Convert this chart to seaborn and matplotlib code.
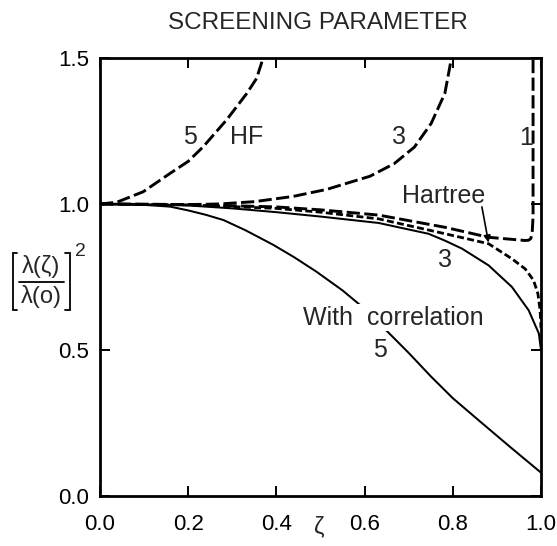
import matplotlib
matplotlib.use("Agg")
import matplotlib.pyplot as plt
from matplotlib.lines import Line2D
import pandas as pd
import seaborn as sns

# Hartree-Fock curves (long dashes), labelled by coordination 5, 3, 1
zeta_hf5 = [0.0, 0.038, 0.098, 0.159, 0.20, 0.234, 0.287, 0.333, 0.355, 0.37]
lam_hf5 = [1.0, 1.006, 1.042, 1.105, 1.146, 1.196, 1.288, 1.379, 1.43, 1.5]

zeta_hf3 = [0.0, 0.10, 0.20, 0.27, 0.35, 0.438, 0.514, 0.612, 0.667, 0.713,
            0.751, 0.782, 0.797]
lam_hf3 = [1.0, 0.999, 0.998, 1.0, 1.008, 1.026, 1.05, 1.095, 1.138, 1.195,
           1.276, 1.379, 1.5]

zeta_hf1 = [0.0, 0.20, 0.40, 0.50, 0.632, 0.783, 0.881, 0.964, 0.972, 0.977,
            0.980, 0.982, 0.982]
lam_hf1 = [1.0, 0.998, 0.99, 0.98, 0.962, 0.92, 0.886, 0.875, 0.876, 0.882,
           0.90, 0.96, 1.5]

# Hartree curve (short dashes)
zeta_hartree = [0.0, 0.20, 0.40, 0.50, 0.632, 0.783, 0.881, 0.934, 0.964,
                0.983, 0.993, 0.998, 1.0]
lam_hartree = [1.0, 0.997, 0.985, 0.972, 0.949, 0.898, 0.864, 0.8125, 0.778,
               0.739, 0.693, 0.636, 0.575]

# With correlation (solid), coordination 3 and 5
zeta_c3 = [0.0, 0.10, 0.20, 0.30, 0.40, 0.50, 0.632, 0.745, 0.783, 0.821,
           0.881, 0.934, 0.972, 0.995, 1.0]
lam_c3 = [1.0, 0.999, 0.995, 0.985, 0.972, 0.957, 0.935, 0.898, 0.874, 0.847,
          0.79, 0.716, 0.636, 0.557, 0.5]

zeta_c5 = [0.0, 0.05, 0.10, 0.159, 0.20, 0.24, 0.28, 0.33, 0.393, 0.44, 0.491,
           0.55, 0.597, 0.642, 0.70, 0.75, 0.80, 0.862, 0.93, 1.0]
lam_c5 = [1.0, 0.999, 0.997, 0.991, 0.978, 0.963, 0.945, 0.91, 0.86, 0.818,
          0.768, 0.704, 0.645, 0.578, 0.49, 0.41, 0.335, 0.255, 0.168, 0.08]

x_ticks = [0.0, 0.2, 0.4, 0.6, 0.8, 1.0]
y_ticks = [0.0, 0.5, 1.0, 1.5]

sns.set_theme(style="ticks")
plt.rcParams["font.family"] = ["Liberation Sans", "DejaVu Sans"]
plt.rcParams["lines.scale_dashes"] = False

W, H = 557, 546
fig = plt.figure(figsize=(W / 100, H / 100), dpi=100)
ax = fig.add_axes([100 / W, 1 - 496 / H, 441 / W, 438 / H])

long_dash = (0, (9.5, 3.2))
short_dash = (0, (5.0, 2.4))

curves = [
    (zeta_hf5, lam_hf5, long_dash, 2.1),
    (zeta_hf3, lam_hf3, long_dash, 2.1),
    (zeta_hf1, lam_hf1, long_dash, 2.1),
    (zeta_hartree, lam_hartree, short_dash, 2.0),
    (zeta_c3, lam_c3, "-", 1.45),
    (zeta_c5, lam_c5, "-", 1.45),
]
for zs, vals, style, lw in curves:
    df = pd.DataFrame({"zeta": zs, "lam": vals})
    sns.lineplot(data=df, x="zeta", y="lam", ax=ax, color="black",
                 sort=False, estimator=None, linestyle=style, linewidth=lw)

ax.set_xlim(0.0, 1.0)
ax.set_ylim(0.0, 1.5)
ax.set_xticks(x_ticks)
ax.set_yticks(y_ticks)
ax.set_xticklabels([f"{v:.1f}" for v in x_ticks])
ax.set_yticklabels([f"{v:.1f}" for v in y_ticks])
ax.tick_params(direction="in", length=7, width=1.4, top=True, right=True,
               labelsize=16, colors="black")
ax.tick_params(axis="y", pad=8)
ax.tick_params(axis="x", pad=13)
for sp in ax.spines.values():
    sp.set_linewidth(2.0)
    sp.set_color("black")
ax.set_xlabel("")
ax.set_ylabel("")

fs = 18
ax.text(0.204, 1.23, "5", ha="center", va="center", fontsize=fs)
ax.text(0.333, 1.23, "HF", ha="center", va="center", fontsize=fs)
ax.text(0.677, 1.23, "3", ha="center", va="center", fontsize=fs)
ax.text(0.967, 1.225, "1", ha="center", va="center", fontsize=fs)
ax.text(0.78, 1.028, "Hartree", ha="center", va="center", fontsize=fs)
ax.annotate("", xy=(0.881, 0.868), xytext=(0.866, 0.99),
            arrowprops=dict(arrowstyle="-|>", color="black", lw=1.2,
                            mutation_scale=10, shrinkA=0, shrinkB=0))
ax.text(0.783, 0.807, "3", ha="center", va="center", fontsize=fs)
ax.text(0.665, 0.61, "With  correlation", ha="center", va="center",
        fontsize=fs, bbox=dict(facecolor="white", edgecolor="none", pad=1.0),
        zorder=5)
ax.text(0.635, 0.50, "5", ha="center", va="center", fontsize=fs)


def fpt(px, py):
    return px / W, 1 - py / H


# y-axis quantity: [ lambda(zeta) / lambda(o) ]^2, built as a bracketed fraction
fig.text(*fpt(41, 266), "λ(ζ)", ha="center", va="center", fontsize=17)
fig.text(*fpt(41, 297), "λ(o)", ha="center", va="center", fontsize=17)
fig.text(*fpt(80, 252), "2", ha="center", va="center", fontsize=14)
bracket_lw = 1.3
for xs, ys in [
    ([17, 12.5, 12.5, 17], [253, 253, 310, 310]),
    ([65, 69.5, 69.5, 65], [253, 253, 310, 310]),
    ([19, 64], [282, 282]),
]:
    fx = [x / W for x in xs]
    fy = [1 - y / H for y in ys]
    fig.add_artist(Line2D(fx, fy, transform=fig.transFigure, color="black",
                          lw=bracket_lw, solid_joinstyle="miter"))

fig.text(*fpt(319, 527), "ζ", ha="center", va="center", fontsize=17)
fig.text(318 / W, 1 - 23 / H, "SCREENING PARAMETER", ha="center",
         va="center", fontsize=17.5)

fig.savefig("out.png", dpi=100)
